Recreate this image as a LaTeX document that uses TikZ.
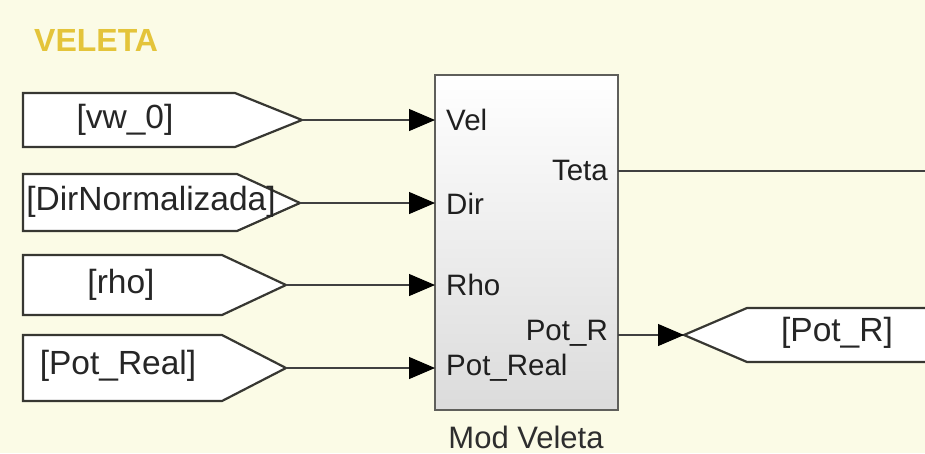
\documentclass[tikz,border=0pt]{standalone}
\usepackage{fontspec}
\setmainfont{Liberation Sans}
\usetikzlibrary{arrows.meta}
\definecolor{bg}{RGB}{251,251,230}
\definecolor{titlecol}{RGB}{228,196,58}
\definecolor{edge}{RGB}{55,55,50}
\begin{document}
\begin{tikzpicture}[x=1pt,y=-1pt,
  tag/.style={draw=edge, line width=2.2pt, fill=white, line join=miter},
  wire/.style={draw=black!75, line width=1.1pt},
  sig/.style={wire, -{Triangle[length=26pt,width=22pt,color=black]}},
  tagtxt/.style={font=\fontsize{33.5}{36}\selectfont, text=black!85, inner sep=0pt},
  porttxt/.style={font=\fontsize{29.5}{32}\selectfont, text=black!88, inner sep=0pt},
  blockstyle/.style={draw=edge!80, line width=2.2pt, top color=white, bottom color=black!14,
    minimum width=183pt, minimum height=335pt, inner sep=0pt},
]
\fill[bg] (0,0) rectangle (925,453);
\useasboundingbox (0,0) rectangle (925,453);
\clip (0,0) rectangle (925,453);

% title
\node[font=\fontsize{32}{34}\selectfont\bfseries, text=titlecol, anchor=west, inner sep=0pt] (title) at (34,40) {VELETA};

% goto tags (left)
\draw[tag] (23,93) -- (235,93) -- (302,120) -- (235,147) -- (23,147) -- cycle;
\coordinate (t1) at (302,120);
\node[tagtxt] (l1) at (125,120) {[vw\_0]};

\draw[tag] (23,174) -- (237,174) -- (300,203) -- (237,231) -- (23,231) -- cycle;
\coordinate (t2) at (300,203);
\node[tagtxt] (l2) at (151,202) {[DirNormalizada]};

\draw[tag] (23,255) -- (222,255) -- (286,285) -- (222,315) -- (23,315) -- cycle;
\coordinate (t3) at (286,285);
\node[tagtxt] (l3) at (121,285) {[rho]};

\draw[tag] (23,335) -- (222,335) -- (286,368) -- (222,401) -- (23,401) -- cycle;
\coordinate (t4) at (286,368);
\node[tagtxt] (l4) at (118,366) {[Pot\_Real]};

% subsystem block
\node[blockstyle] (mod) at (526.5,242.5) {};
\coordinate (inVel) at (435,120);
\coordinate (inDir) at (435,203);
\coordinate (inRho) at (435,285);
\coordinate (inPot) at (435,368);
\coordinate (outTeta) at (618,171);
\coordinate (outPot) at (618,335);

\node[porttxt, anchor=west] (pVel) at (446,120) {Vel};
\node[porttxt, anchor=west] (pDir) at (446,204) {Dir};
\node[porttxt, anchor=west] (pRho) at (446,285) {Rho};
\node[porttxt, anchor=west] (pPotIn) at (446,368) {Pot\_Real};
\node[porttxt, anchor=east] (pTeta) at (608,170) {Teta};
\node[porttxt, anchor=east] (pPotOut) at (608,333) {Pot\_R};
\node[font=\fontsize{31}{32}\selectfont, text=black!82, inner sep=0pt] (mname) at (526,437) {Mod Veleta};

% from tag (right)
\draw[tag] (950,308) -- (747,308) -- (684,335) -- (747,362) -- (950,362);
\coordinate (t5) at (684,335);
\node[tagtxt] (l5) at (837,333) {[Pot\_R]};

% wires
\draw[sig] (t1) -- (inVel);
\draw[sig] (t2) -- (inDir);
\draw[sig] (t3) -- (inRho);
\draw[sig] (t4) -- (inPot);
\coordinate (tetaEnd) at (930,171);
\draw[wire] (outTeta) -- (tetaEnd);
\draw[sig] (outPot) -- (t5);
\end{tikzpicture}
\end{document}
